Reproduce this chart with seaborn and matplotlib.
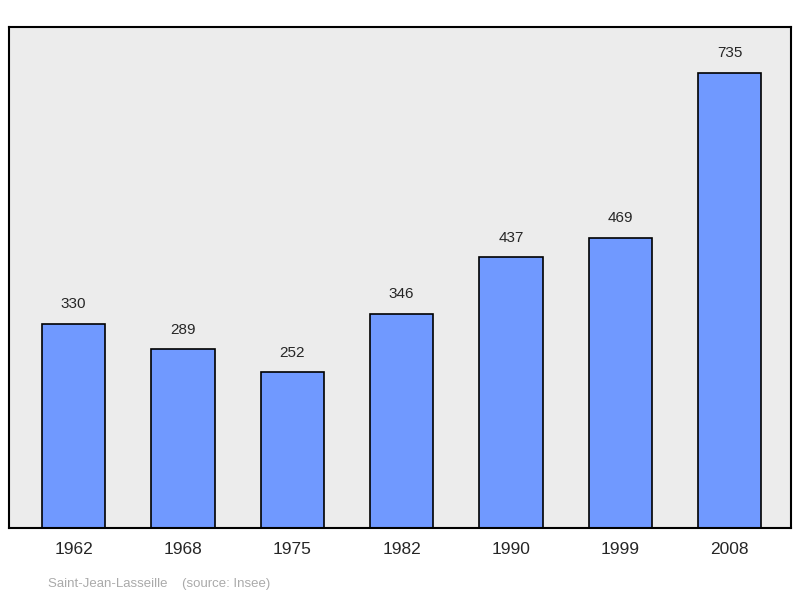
import matplotlib
matplotlib.use("Agg")
import matplotlib.pyplot as plt
import seaborn as sns
import pandas as pd

years = ["1962", "1968", "1975", "1982", "1990", "1999", "2008"]
population = [330, 289, 252, 346, 437, 469, 735]

df = pd.DataFrame({"year": years, "pop": population})

sns.set_style("white")
plt.rcParams['font.family'] = ['Liberation Sans', 'DejaVu Sans']

fig = plt.figure(figsize=(8, 5.98), dpi=100)
ax = fig.add_axes([9/800, 1-528/598, 782/800, 501/598])
ax.set_facecolor("#ececec")
sns.barplot(data=df, x="year", y="pop", color="#7099ff", saturation=1,
            width=0.58, edgecolor="black", linewidth=1.2, ax=ax)
ax.set_xlim(-0.59, 6.56)
ax.set_ylim(0, 809)
for i, v in enumerate(population):
    ax.text(i, v + 20, str(v), ha="center", va="bottom", fontsize=11)
ax.set_yticks([])
ax.set_xlabel("")
ax.set_ylabel("")
ax.tick_params(axis="x", length=0, labelsize=12.5, pad=10)
for s in ax.spines.values():
    s.set_visible(True)
    s.set_color("black")
    s.set_linewidth(1.5)
fig.text(48/800, 1-584/598, "Saint-Jean-Lasseille    (source: Insee)",
         color="#aaaaaa", fontsize=9.5, va="center")
fig.savefig("out.png", dpi=100)
